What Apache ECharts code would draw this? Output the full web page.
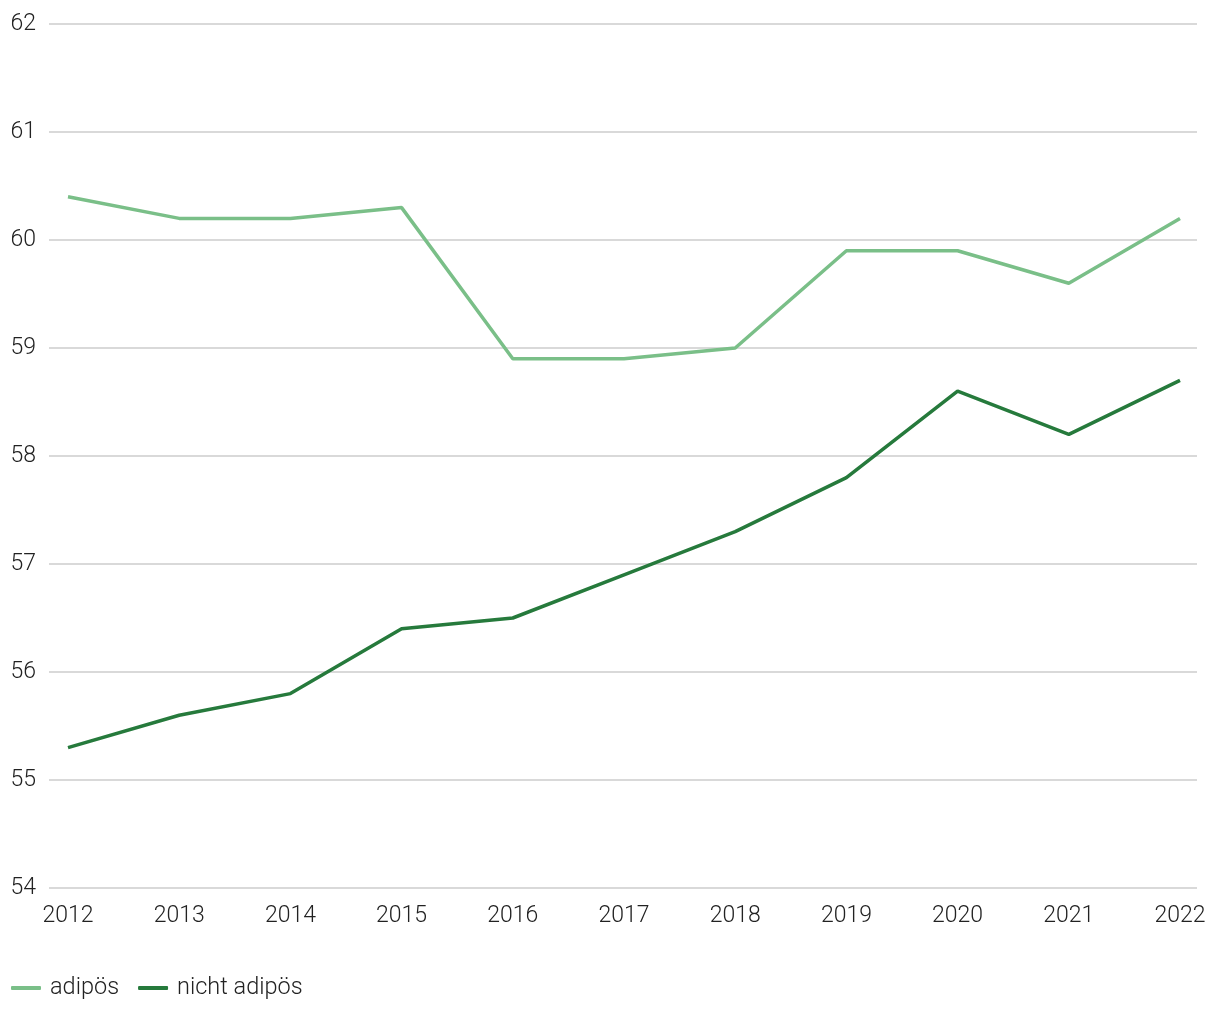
<!DOCTYPE html>
<html>
<head>
<meta charset="utf-8">
<script src="https://cdn.jsdelivr.net/npm/echarts@6/dist/echarts.min.js"></script>
<style>html,body{margin:0;padding:0;background:#fff}#c{width:1220px;height:1020px}</style>
</head>
<body>
<div id="c"></div>
<script>
const years = ['2012','2013','2014','2015','2016','2017','2018','2019','2020','2021','2022'];
const adipoes = [60.4, 60.2, 60.2, 60.3, 58.9, 58.9, 59.0, 59.9, 59.9, 59.6, 60.2];
const nichtAdipoes = [55.3, 55.6, 55.8, 56.4, 56.5, 56.9, 57.3, 57.8, 58.6, 58.2, 58.7];
const yMin = 54, yMax = 62, yStep = 1;

const font = 'Roboto';
const chart = echarts.init(document.getElementById('c'));
chart.setOption({
  animation: false,
  textStyle: {fontFamily: font},
  grid: [
    {left: 49, right: 23, top: 24, bottom: 132},
    {left: 68, right: 40, top: 24, bottom: 132}
  ],
  legend: {
    left: 11, bottom: 20, padding: 0, itemWidth: 30, itemHeight: 4, itemGap: 19,
    icon: 'roundRect',
    textStyle: {fontFamily: font, fontWeight: 300, fontSize: 23.5, color: '#222', padding: [0, 0, 0, 4]},
    data: ['adipös', 'nicht adipös']
  },
  xAxis: [
    {type: 'category', gridIndex: 0, data: years, show: false},
    {type: 'category', gridIndex: 1, data: years, boundaryGap: false,
     axisLine: {show: false}, axisTick: {show: false},
     axisLabel: {fontFamily: font, fontWeight: 300, fontSize: 23, color: '#222', margin: 17},
     splitLine: {show: false}}
  ],
  yAxis: [
    {type: 'value', gridIndex: 0, min: yMin, max: yMax, interval: yStep,
     axisLine: {show: false}, axisTick: {show: false},
     axisLabel: {fontFamily: font, fontWeight: 300, fontSize: 23, color: '#222', margin: 13},
     splitLine: {lineStyle: {color: '#cccccc', width: 1.5}}},
    {type: 'value', gridIndex: 1, min: yMin, max: yMax, interval: yStep, show: false, splitLine: {show: false}}
  ],
  series: [
    {name: 'adipös', type: 'line', xAxisIndex: 1, yAxisIndex: 1, data: adipoes,
     symbol: 'none', lineStyle: {color: '#7abf88', width: 3.5}, itemStyle: {color: '#7abf88'}},
    {name: 'nicht adipös', type: 'line', xAxisIndex: 1, yAxisIndex: 1, data: nichtAdipoes,
     symbol: 'none', lineStyle: {color: '#267a3c', width: 3.5}, itemStyle: {color: '#267a3c'}}
  ]
});
</script>
</body>
</html>
